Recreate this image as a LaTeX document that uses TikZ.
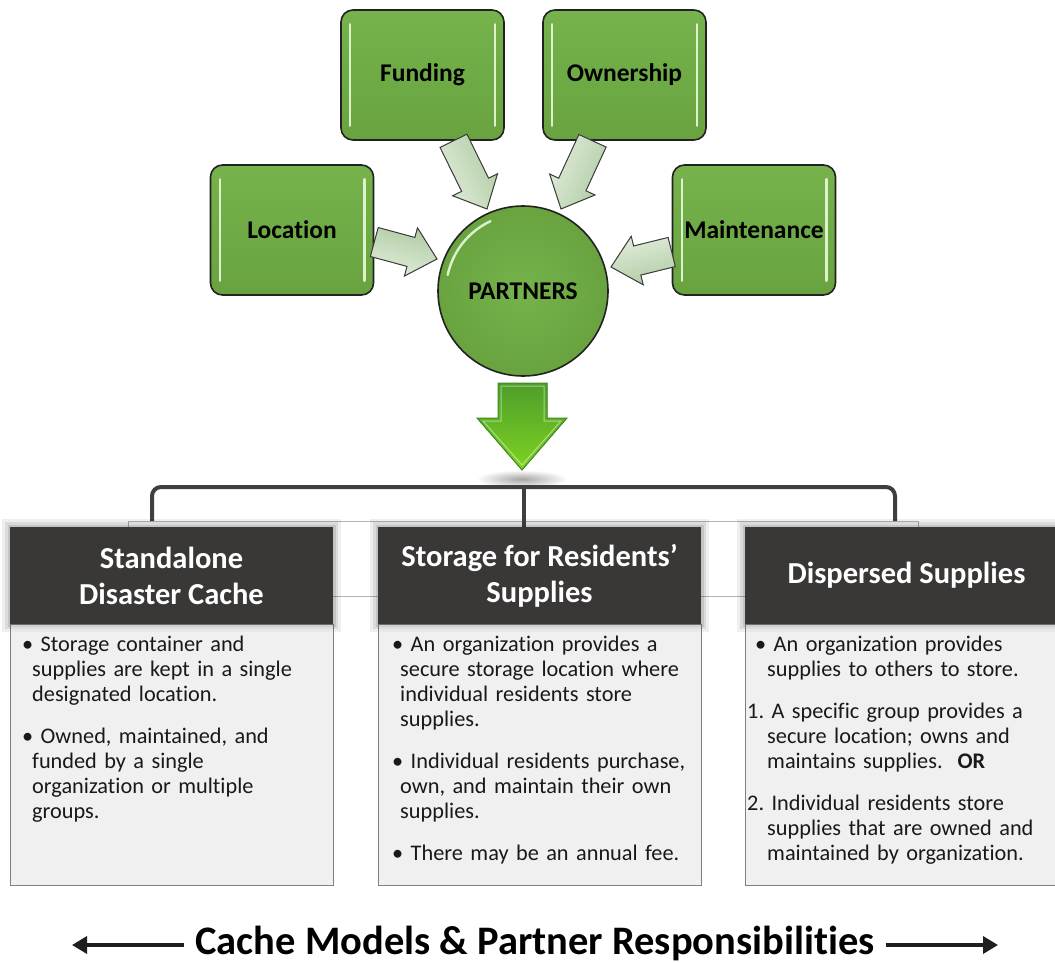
\documentclass[tikz,border=0pt]{standalone}
\usepackage{fontspec}
\setmainfont{Carlito}[Ligatures={NoCommon}]
\usetikzlibrary{calc,arrows.meta}
\definecolor{boxgreen}{HTML}{70AD47}
\definecolor{boxgreenT}{HTML}{76B34C}
\definecolor{boxgreenB}{HTML}{68A33F}
\definecolor{rimdark}{HTML}{222222}
\definecolor{bevelc}{HTML}{DDF2CC}
\definecolor{barrowA}{HTML}{B1CCA4}
\definecolor{barrowB}{HTML}{E0ECDA}
\definecolor{barrowline}{HTML}{3C3C3C}
\definecolor{hdrfill}{HTML}{3A3837}
\definecolor{bodyfill}{HTML}{F0F0F0}
\definecolor{bodyline}{HTML}{808080}
\definecolor{bracketc}{HTML}{3F3F3F}
\definecolor{thinrect}{HTML}{B4B4B4}
\definecolor{dgreenT}{HTML}{4E9E2A}
\definecolor{dgreenB}{HTML}{7ED321}
\definecolor{dgreenLine}{HTML}{3F8A1E}
\newcommand\bevel[1]{%
  \draw[bevelline] ($(#1.north west)+(10,15)$) -- ($(#1.south west)+(10,-15)$);
  \draw[bevelline] ($(#1.north east)+(-10,15)$) -- ($(#1.south east)+(-10,-15)$);}
\newcommand\barrow[3]{%
  \coordinate (#1H) at ($(#2)!27pt!(#1)$);
  \filldraw[blockarrow, shading angle=#3] ($(#1)!15pt!90:(#2)$) -- ($(#1H)!15pt!90:(#2)$) -- ($(#1H)!25pt!90:(#2)$) -- (#2)
    -- ($(#1H)!25pt!-90:(#2)$) -- ($(#1H)!15pt!-90:(#2)$) -- ($(#1)!15pt!-90:(#2)$) -- cycle;}
\frenchspacing
\begin{document}
\begin{tikzpicture}[x=1pt,y=-1pt,
  gbox/.style={draw=rimdark, line width=1.6pt, rounded corners=12pt, top color=boxgreenT, bottom color=boxgreenB,
    minimum width=163pt, minimum height=130pt, inner sep=0pt, font=\bfseries\fontsize{25.5}{28}\selectfont, text=black},
  bevelline/.style={draw=bevelc, line width=2.4pt, line cap=round},
  circnode/.style={circle, draw=rimdark, line width=1.6pt, inner color=boxgreenT, outer color=boxgreenB,
    minimum size=170pt, inner sep=0pt, font=\bfseries\fontsize{25.5}{28}\selectfont, text=black},
  blockarrow/.style={left color=barrowA, right color=barrowB, draw=barrowline, line width=1pt, line join=miter},
  hdr/.style={fill=hdrfill, text=white, font=\bfseries\fontsize{30.5}{36}\selectfont, align=center,
    minimum width=323pt, minimum height=97pt, inner sep=0pt,
    preaction={draw=black, draw opacity=0.03, line width=16pt},
    preaction={draw=black, draw opacity=0.045, line width=10pt},
    preaction={draw=black, draw opacity=0.055, line width=5pt}},
  bodybox/.style={fill=bodyfill, draw=bodyline, line width=1pt, minimum width=323pt, minimum height=261pt, inner sep=0pt},
  btext/.style={inner sep=0pt, anchor=north west, text width=318pt, align=left, font=\fontsize{22.3}{25}\selectfont, text=black!90},
  bracket/.style={draw=bracketc, line width=4pt, rounded corners=9pt},
  caparrow/.style={draw=black!88, line width=3.5pt, shorten <=11pt, -{Triangle[length=15pt,width=17pt]}}
]
\useasboundingbox (0,0) rectangle (1055,963);

% ---------- top green boxes ----------
\node[gbox] (fund)  at (422.5,75)  {Funding};
\node[gbox] (own)   at (624.5,75)  {Ownership};
\node[gbox] (loc)   at (292,230)   {Location};
\node[gbox] (maint) at (754,230)   {Maintenance};
\bevel{fund}\bevel{own}\bevel{loc}\bevel{maint}

% ---------- central circle ----------
\node[circnode] (P) at (523,291) {PARTNERS};
\draw[draw=bevelc, line width=2.4pt, line cap=round] ($(P.center)+(192:77)$) arc (192:245:77);

% ---------- block arrows into the circle ----------
\coordinate (fA) at ($(fund.south)+(31,0)$);   \coordinate (fB) at (487,209);
\coordinate (oA) at ($(own.south)+(-32,0)$);   \coordinate (oB) at (561,209);
\coordinate (lA) at ($(loc.east)+(0,12)$);     \coordinate (lB) at (437,259);
\coordinate (mA) at ($(maint.west)+(0,22)$);   \coordinate (mB) at (611,267);
\barrow{fA}{fB}{-64}
\barrow{oA}{oB}{-114}
\barrow{lA}{lB}{-15}
\barrow{mA}{mB}{-166}

% ---------- green down arrow ----------
\shade[inner color=black!35, outer color=white] (522,479) ellipse (46 and 9);
\filldraw[top color=dgreenT, bottom color=dgreenB, draw=dgreenLine, line width=1pt, line join=miter]
  (498,383) -- (547,383) -- (547,418) -- (567,418) -- (522,470) -- (477,418) -- (498,418) -- cycle;
\draw[draw=white, draw opacity=0.45, line width=1pt, line join=miter]
  (501,386) -- (544,386) -- (544,421) -- (561,421) -- (522,465) -- (483,421) -- (501,421) -- cycle;

% ---------- thin outline behind headers ----------
\draw[draw=thinrect, line width=0.9pt] (128,521) rectangle (918,596);

% ---------- bracket ----------
\coordinate (brL) at (152,521);
\coordinate (brR) at (895,521);
\coordinate (brM) at (524,487);
\draw[bracket] (brL) -- (152,487) -- (895,487) -- (brR);

% ---------- panels ----------
\node[hdr] (h1) at (171.5,575.5) {Standalone\\Disaster Cache};
\node[hdr] (h2) at (539.5,575.5) {Storage for Residents’\\Supplies};
\node[hdr] (h3) at (906.5,575.5) {Dispersed Supplies};
\draw[bracketc, line width=4pt] (brM) -- (h2.north -| brM);

\node[bodybox, anchor=north] (b1) at (h1.south) {};
\node[bodybox, anchor=north] (b2) at (h2.south) {};
\node[bodybox, anchor=north] (b3) at (h3.south) {};
% headers again, on top of the bodies
\node[hdr] at (h1) {Standalone\\Disaster Cache};
\node[hdr] at (h2) {Storage for Residents’\\Supplies};
\node[hdr] at (h3) {Dispersed Supplies};

\node[btext] (t1) at (22,636) {\leftskip=10pt
  \hspace*{-10pt}•\ Storage container and\\supplies are kept in a single\\designated location.\par\vspace{17pt}
  \hspace*{-10pt}•\ Owned, maintained, and\\funded by a single\\organization or multiple\\groups.\par};
\node[btext] (t2) at (392,636) {\leftskip=8pt
  \hspace*{-8pt}•\ An organization provides a\\secure storage location where\\individual residents store\\supplies.\par\vspace{17pt}
  \hspace*{-8pt}•\ Individual residents purchase,\\own, and maintain their own\\supplies.\par\vspace{17pt}
  \hspace*{-8pt}•\ There may be an annual fee.\par};
\node[btext] (t3) at (747,636) {\leftskip=20pt
  \hspace*{-12pt}•\ An organization provides\\supplies to others to store.\par\vspace{17pt}
  \hspace*{-20pt}1. A specific group provides a\\secure location; owns and\\maintains supplies.\ \ \textbf{OR}\par\vspace{17pt}
  \hspace*{-20pt}2. Individual residents store\\supplies that are owned and\\maintained by organization.\par};

% ---------- caption ----------
\node[anchor=base, inner sep=0pt, font=\bfseries\fontsize{40.5}{44}\selectfont, text=black] (cap) at (535,954)
  {Cache Models \& Partner Responsibilities};
\coordinate (capL) at (72,945);
\coordinate (capR) at (998,945);
\draw[caparrow] (cap.west |- capL) -- (capL);
\draw[caparrow] (cap.east |- capR) -- (capR);
\end{tikzpicture}
\end{document}
